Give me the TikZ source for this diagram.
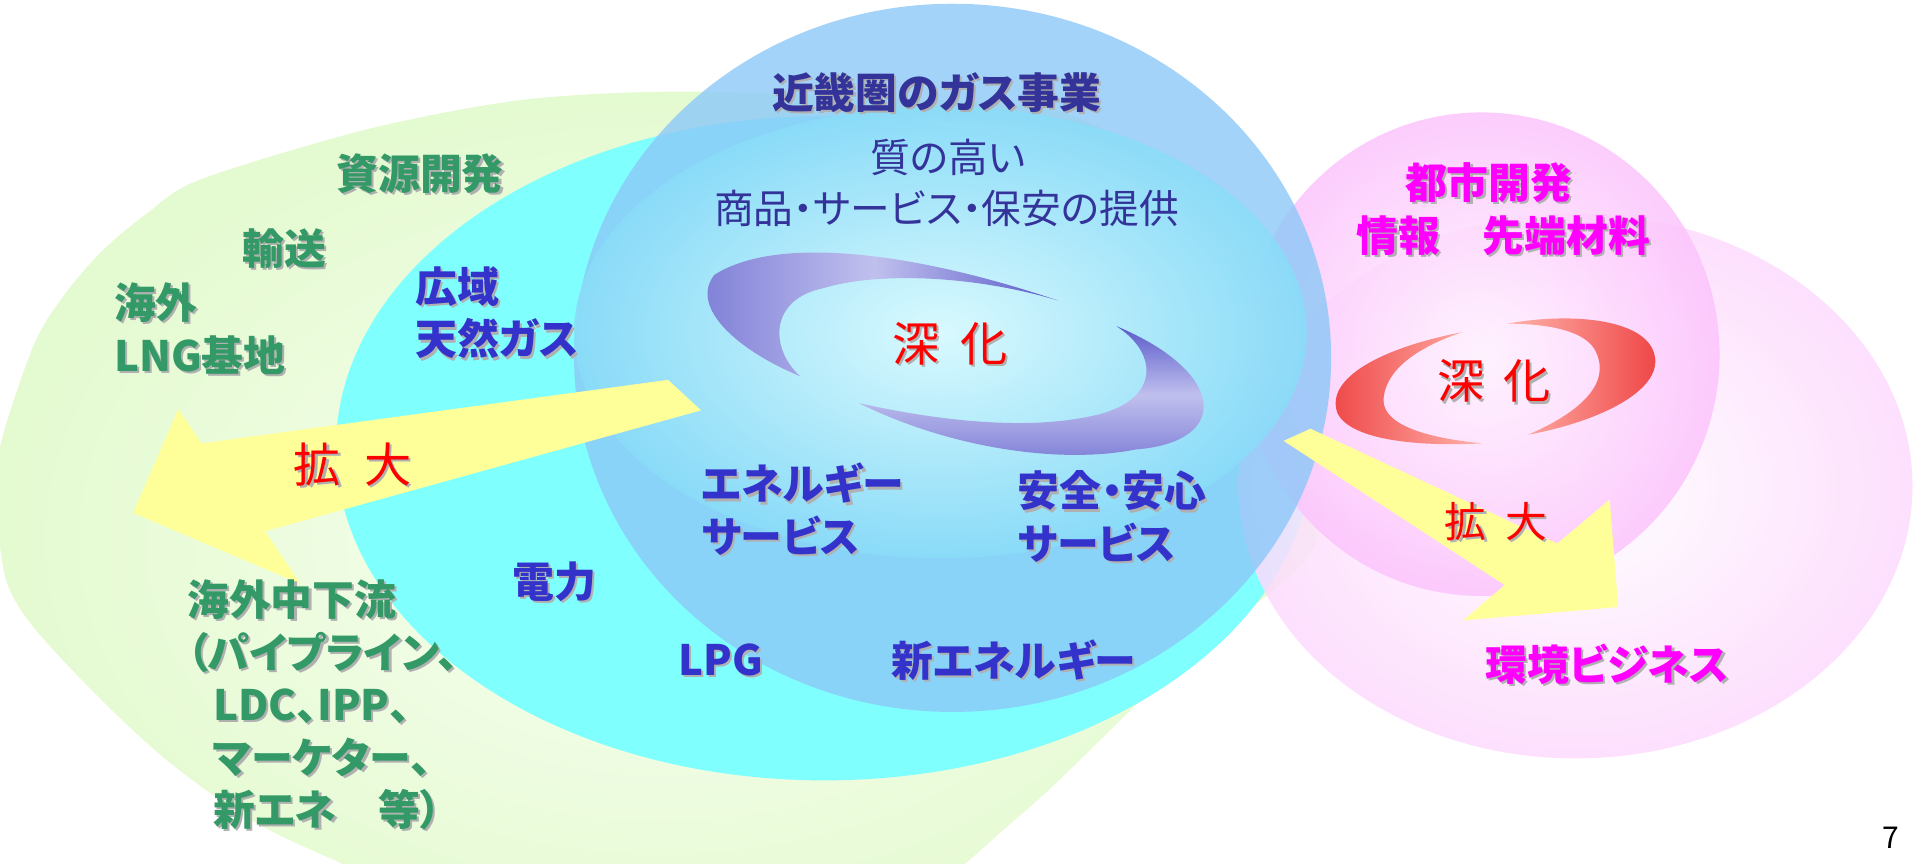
\documentclass[tikz,border=0pt]{standalone}
\usepackage{fontspec}
\setmainfont{Noto Sans CJK JP}[RawFeature=+palt]

\definecolor{navytxt}{HTML}{333399}
\definecolor{bluetxt}{HTML}{3333CC}
\definecolor{greentxt}{HTML}{339966}
\definecolor{magtxt}{HTML}{FF00FF}
\definecolor{redtxt}{HTML}{FF0000}
\definecolor{shadowgray}{HTML}{B0B0B0}
\definecolor{greenbg}{HTML}{E4FAD0}
\definecolor{greenlt}{HTML}{F8FFF2}
\definecolor{cyanbg}{HTML}{80FFFF}
\definecolor{bluebg}{HTML}{8CC8F8}
\definecolor{discin}{HTML}{E2FEFF}
\definecolor{discout}{HTML}{8ADCF8}
\definecolor{pinkbg}{HTML}{FCC4FC}
\definecolor{pinkcore}{HTML}{FFF4FF}
\definecolor{pinklt}{HTML}{FDDAFD}
\definecolor{swirlA}{HTML}{7C7CD6}
\definecolor{swirlB}{HTML}{C0C0EE}
\definecolor{swirlC}{HTML}{5A5ACA}
\definecolor{redlt}{HTML}{FFB4AC}
\definecolor{reddk}{HTML}{EE4444}
\definecolor{arrowyel}{HTML}{FFFF99}

% text with a grey drop shadow
\newcommand{\shd}[1]{\leavevmode\rlap{\kern1pt\raisebox{-1pt}{\textcolor{shadowgray}{#1}}}#1}

\begin{document}
\begin{tikzpicture}[x=0.02cm,y=-0.02cm,
    lbl/.style={inner sep=0pt,align=left,font=\fontsize{19.5}{24.5}\selectfont\bfseries},
    green lbl/.style={lbl,text=greentxt},
    blue lbl/.style={lbl,text=bluetxt},
    pink lbl/.style={lbl,text=magtxt},
    navy lbl/.style={lbl,text=navytxt},
    plain lbl/.style={inner sep=0pt,font=\fontsize{18.5}{23}\selectfont,text=navytxt},
    red lbl/.style={inner sep=0pt,font=\fontsize{22}{26}\selectfont,text=redtxt}]
  \useasboundingbox (0,0) rectangle (1568,707);
  \clip (0,0) rectangle (1568,707);

  % background circles
  \shade[inner color=greenlt,outer color=greenbg] plot[smooth cycle,tension=0.5] coordinates {(551,75) (700,80) (868,92) (985,160) (1055,270) (1085,380) (1075,450) (1010,510) (936,572) (836,667) (700,770) (500,800) (273,704) (200,668) (136,622) (80,570) (27,513) (5,475) (-2,420) (0,366) (27,284) (50,245) (82,207) (120,175) (164,147) (300,106) (426,82)};
  \fill[cyanbg] (675,367) ellipse [x radius=8cm,y radius=5.44cm];
  \shade[inner color=white,outer color=pinklt,fill opacity=0.85] (1290,398) ellipse [x radius=5.52cm,y radius=4.46cm];
  \shade[inner color=pinkcore,outer color=pinkbg,fill opacity=0.85] (1213,290) ellipse [x radius=3.9cm,y radius=3.96cm];
  \fill[bluebg,fill opacity=0.8] (780,293) ellipse [x radius=6.2cm,y radius=5.8cm];
  \shade[inner color=discin,outer color=discout,fill opacity=0.9] (770,272) ellipse [x radius=6cm,y radius=3.7cm];

  % swirls
  \shade[left color=swirlA,right color=swirlC,middle color=swirlB]
    (866,246) .. controls (760,210) and (640,190) .. (585,225)
    .. controls (565,250) and (600,285) .. (655,308)
    .. controls (630,285) and (630,245) .. (674,236)
    .. controls (720,222) and (800,226) .. (866,246) -- cycle;
  \shade[top color=swirlC,bottom color=swirlA,middle color=swirlB]
    (703,330) .. controls (780,368) and (870,380) .. (930,368)
    .. controls (1008,362) and (1005,305) .. (914,267)
    .. controls (950,290) and (950,330) .. (892,341)
    .. controls (840,352) and (770,345) .. (703,330) -- cycle;
  \shade[left color=redlt,right color=reddk]
    (1234,265) .. controls (1290,255) and (1350,262) .. (1355,292)
    .. controls (1360,320) and (1310,345) .. (1251,356)
    .. controls (1300,335) and (1320,310) .. (1305,285)
    .. controls (1295,270) and (1265,265) .. (1234,265) -- cycle;
  \shade[left color=reddk,right color=redlt]
    (1197,272) .. controls (1130,285) and (1085,310) .. (1095,338)
    .. controls (1105,360) and (1160,366) .. (1214,363)
    .. controls (1160,358) and (1130,345) .. (1133,325)
    .. controls (1136,300) and (1165,283) .. (1197,272) -- cycle;

  % arrows
  \fill[arrowyel] (547,311) -- (574,336) -- (217,435) -- (246,478) -- (109,420) -- (146,335) -- (165,363) -- cycle;
  \fill[arrowyel] (1073,351) -- (1275,445) -- (1318,409) -- (1325,497) -- (1198,508) -- (1232,479) -- (1051,361) -- cycle;

  % labels
  \node[navy lbl] (kinki) at (767,77) {\shd{近畿圏のガス事業}};
  \node[plain lbl] (quality) at (776,129) {質の高い};
  \node[plain lbl] (supply) at (775,171) {商品・サービス・保安の提供};
  \node[red lbl] (deep1) at (778,282) {\shd{深\hspace{0.45em}化}};
  \node[green lbl] (resource) at (344,143) {\shd{資源開発}};
  \node[green lbl] (transport) at (233,204) {\shd{輸送}};
  \node[green lbl,anchor=west] (lng) at (93,270) {\shd{海外}\\\shd{LNG基地}};
  \node[blue lbl,anchor=west] (widearea) at (340,257) {\shd{広域}\\\shd{天然ガス}};
  \node[red lbl] (expand1) at (289,381) {\shd{拡\hspace{0.5em}大}};
  \node[blue lbl,anchor=west] (energysvc) at (574,418) {\shd{エネルギー}\\\shd{サービス}};
  \node[blue lbl,anchor=west] (safetysvc) at (833,424) {\shd{安全・安心}\\\shd{サービス}};
  \node[blue lbl] (power) at (454,477) {\shd{電力}};
  \node[blue lbl] (lpg) at (590,541) {\shd{LPG}};
  \node[blue lbl] (newenergy) at (830,541) {\shd{新エネルギー}};
  \node[green lbl,anchor=west] (overseas) at (153,578)
    {\shd{海外中下流}\\\shd{（パイプライン、}\\\hspace{12pt}\shd{LDC、IPP、}\\\hspace{12pt}\shd{マーケター、}\\\hspace{12pt}\shd{新エネ　等）}};
  \node[pink lbl] (urban) at (1219,150) {\shd{都市開発}};
  \node[pink lbl] (info) at (1231,194) {\shd{情報　先端材料}};
  \node[red lbl] (deep2) at (1223,313) {\shd{深\hspace{0.4em}化}};
  \node[red lbl,font=\fontsize{19.5}{24}\selectfont] (expand2) at (1225,428) {\shd{拡\hspace{0.45em}大}};
  \node[pink lbl] (envbiz) at (1316,545) {\shd{環境ビジネス}};
  \node[inner sep=0pt,font=\fontsize{14}{16}\selectfont] (page) at (1548,686) {7};
\end{tikzpicture}
\end{document}
